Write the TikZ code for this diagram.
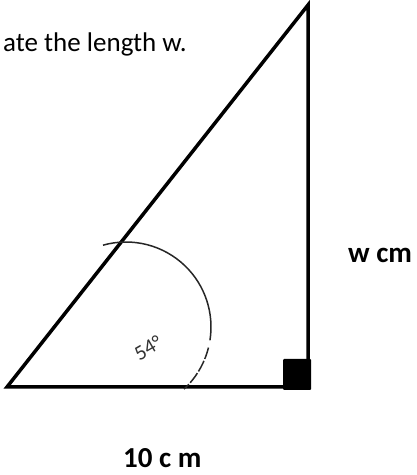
\documentclass[tikz,border=0pt]{standalone}
\usepackage{fontspec}
\setmainfont{Carlito}
\usetikzlibrary{positioning}

\begin{document}
\begin{tikzpicture}[x=1pt, y=1pt,
  side/.style={line width=3.5pt, line join=miter, line cap=rect},
  anglearc/.style={line width=1.5pt, draw=black!85},
  lbl/.style={font=\fontsize{29}{34}\selectfont\bfseries, inner sep=0pt, anchor=base west},
  qtext/.style={font=\fontsize{27}{32}\selectfont, inner sep=0pt, anchor=base west}]
\useasboundingbox (0,0) rectangle (417,475);
% triangle corners
\coordinate (A) at (7,88);
\coordinate (B) at (308,88);
\coordinate (C) at (308,470);
\coordinate (O) at (126,148);
\node[qtext] (q) at (3,423) {ate the length w.};
\draw[side] (A) -- (B) -- (C) -- cycle;
\fill[rounded corners=1pt] (283,85) rectangle (311,116);
% angle mark
\draw[anglearc] (O) ++(105.7:85) arc[start angle=105.7, end angle=-9, radius=85];
\draw[anglearc, dash pattern=on 12pt off 2pt] (O) ++(-14:85) arc[start angle=-14, end angle=-47, radius=85];
\node[font=\fontsize{21}{24}\selectfont, text=black!80, rotate=30, inner sep=0pt] (ang) at (148,127) {54°};
\node[lbl] (w) at (348,212) {w cm};
\node[lbl] (base) at (123,7) {10 c m};
\end{tikzpicture}
\end{document}
